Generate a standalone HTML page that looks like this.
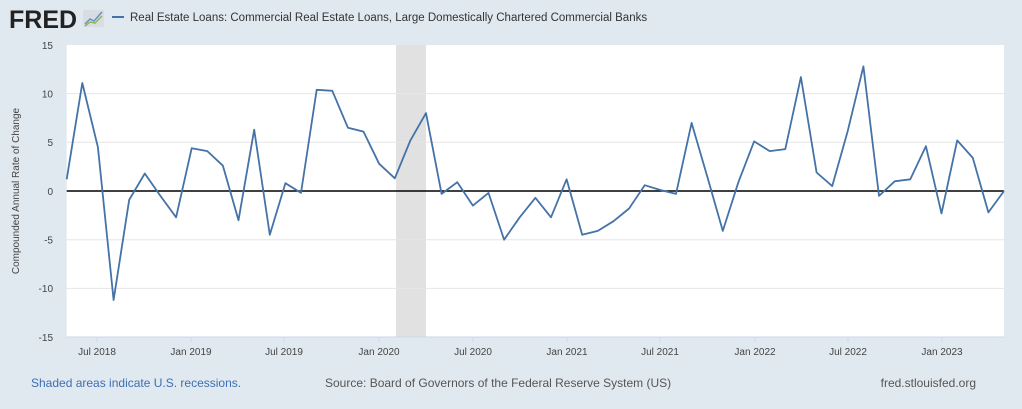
<!DOCTYPE html>
<html><head><style>
body{margin:0;width:1022px;height:404px;background:#e1e9f0;font-family:"Liberation Sans",sans-serif;overflow:hidden}
</style></head><body>
<svg width="1022" height="404" xmlns="http://www.w3.org/2000/svg" font-family="Liberation Sans, sans-serif">
<rect width="1022" height="404" fill="#e1e9f0"/>
<text x="9" y="28" font-size="25" font-weight="bold" fill="#222" letter-spacing="0">FRED</text>
<rect x="83" y="10" width="21" height="17" fill="#d8dde3"/>
<polyline points="85,24 90,19 94,21 102,12" fill="none" stroke="#6b8fbf" stroke-width="1.5"/>
<polyline points="85,26 90,22 95,23 102,16" fill="none" stroke="#8ab85a" stroke-width="1.5"/>
<line x1="112" y1="17" x2="124" y2="17" stroke="#4572a7" stroke-width="2"/>
<text x="130" y="21" font-size="11.5" fill="#333">Real Estate Loans: Commercial Real Estate Loans, Large Domestically Chartered Commercial Banks</text>
<rect x="66.7" y="45" width="937.3" height="292" fill="#fff"/>
<rect x="396" y="45" width="30" height="292" fill="#e1e1e1"/>
<g stroke="#e6e6e6" stroke-width="1">
<line x1="66.7" x2="1004" y1="93.6" y2="93.6"/><line x1="66.7" x2="1004" y1="142.3" y2="142.3"/>
<line x1="66.7" x2="1004" y1="239.7" y2="239.7"/><line x1="66.7" x2="1004" y1="288.4" y2="288.4"/>
</g>
<line x1="66.7" x2="1004" y1="337" y2="337" stroke="#ccd6eb"/>
<g stroke="#ccd6eb">
<line x1="97" x2="97" y1="337" y2="342"/><line x1="191" x2="191" y1="337" y2="342"/><line x1="284" x2="284" y1="337" y2="342"/><line x1="379" x2="379" y1="337" y2="342"/><line x1="473" x2="473" y1="337" y2="342"/><line x1="567" x2="567" y1="337" y2="342"/><line x1="660" x2="660" y1="337" y2="342"/><line x1="755" x2="755" y1="337" y2="342"/><line x1="848" x2="848" y1="337" y2="342"/><line x1="942" x2="942" y1="337" y2="342"/>
</g>
<g font-size="10" fill="#444" text-anchor="end">
<text x="53" y="49">15</text><text x="53" y="97.5">10</text><text x="53" y="146">5</text><text x="53" y="195">0</text><text x="53" y="243.5">-5</text><text x="53" y="292">-10</text><text x="53" y="341">-15</text>
</g>
<g font-size="10" fill="#444" text-anchor="middle">
<text x="97" y="355">Jul 2018</text><text x="191" y="355">Jan 2019</text><text x="284" y="355">Jul 2019</text><text x="379" y="355">Jan 2020</text><text x="473" y="355">Jul 2020</text><text x="567" y="355">Jan 2021</text><text x="660" y="355">Jul 2021</text><text x="755" y="355">Jan 2022</text><text x="848" y="355">Jul 2022</text><text x="942" y="355">Jan 2023</text>
</g>
<text transform="translate(19,191) rotate(-90)" font-size="10" fill="#444" text-anchor="middle">Compounded Annual Rate of Change</text>
<line x1="66.7" x2="1004" y1="191" y2="191" stroke="#000" stroke-width="1.6"/>
<polyline id="p" fill="none" stroke="#4572a7" stroke-width="1.8" stroke-linejoin="round" points=""/>
<text x="31" y="387" font-size="12" fill="#3c6fb3">Shaded areas indicate U.S. recessions.</text>
<text x="325" y="387" font-size="12" fill="#555">Source: Board of Governors of the Federal Reserve System (US)</text>
<text x="976" y="387" font-size="12" fill="#555" text-anchor="end">fred.stlouisfed.org</text>
</svg>
<script>
var d=[1.2,11.1,4.5,-11.2,-0.9,1.8,-0.5,-2.7,4.4,4.1,2.6,-3.0,6.3,-4.5,0.8,-0.2,10.4,10.3,6.5,6.1,2.8,1.3,5.2,8.0,-0.3,0.9,-1.5,-0.2,-5.0,-2.7,-0.7,-2.7,1.2,-4.5,-4.1,-3.1,-1.8,0.6,0.1,-0.3,7.0,1.5,-4.1,0.9,5.1,4.1,4.3,11.7,1.9,0.5,6.2,12.8,-0.5,1.0,1.2,4.6,-2.3,5.2,3.4,-2.2,0.0];
var s=d.map(function(v,i){return (66.7+i*15.622).toFixed(1)+","+(191-v*9.733).toFixed(1)}).join(" ");
document.getElementById("p").setAttribute("points",s);
</script>
</body></html>
